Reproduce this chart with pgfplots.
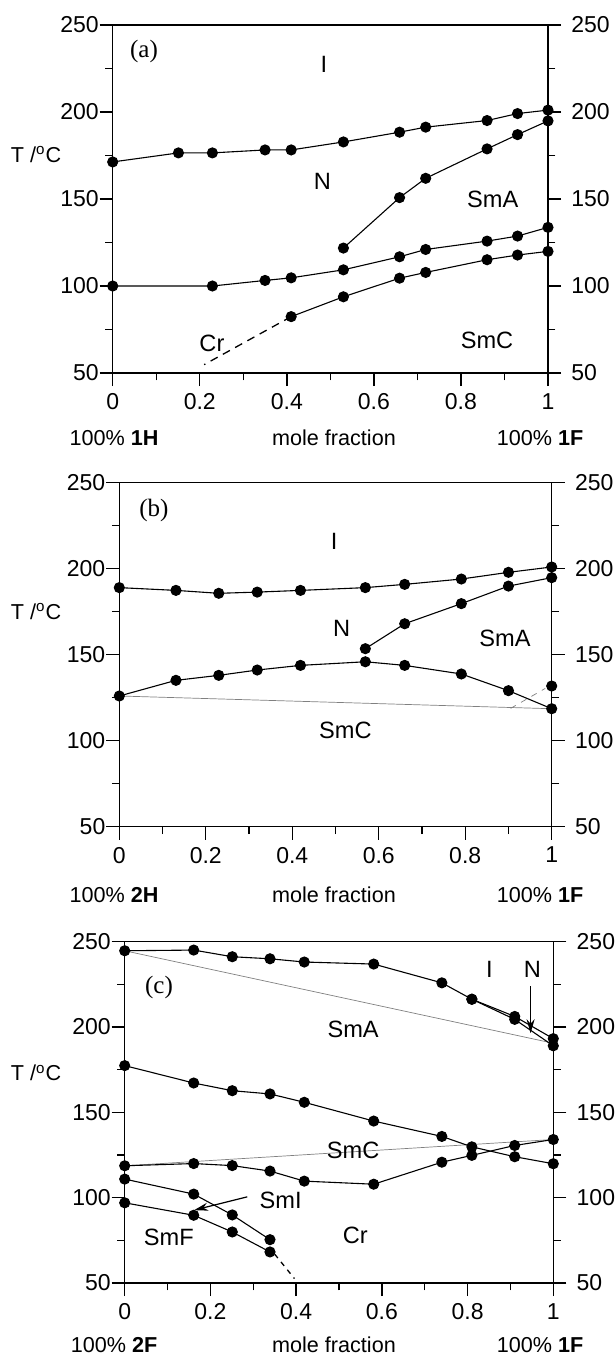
\documentclass[border=0pt]{standalone}
\usepackage{fontspec}
\setmainfont{Liberation Sans}
\newfontfamily\serif{Liberation Serif}
\usepackage{pgfplots}
\pgfplotsset{compat=1.18}
\usetikzlibrary{arrows.meta}

\newcommand\lab{\fontsize{11.8}{14}\selectfont}
\newcommand\txt{\fontsize{10.8}{13}\selectfont}

\pgfplotsset{
  common/.style={
    scale only axis,
    xmin=0, xmax=1, ymin=50, ymax=250,
    ytick={50,100,150,200,250},
    minor ytick={75,125,175,225},
    tick align=outside,
    major tick length=6.5pt, minor tick length=3.7pt,
    every tick/.style={black, line width=0.7pt},
    tick label style={font=\fontsize{11.5}{13}\selectfont},
    /pgf/number format/assume math mode=true,
    clip=false,
  },
  phase/.style={
    common,
    axis line style={line width=0.7pt},
    xtick={0,0.2,0.4,0.6,0.8,1},
    minor xtick={0.1,0.3,0.5,0.7,0.9},
    xtick pos=left, ytick pos=left,
    yticklabel style={inner xsep=0.3pt},
    xticklabel style={inner ysep=3.5pt},
  },
  rightax/.style={
    common,
    axis x line=none, axis y line*=right,
    axis line style={-, line width=0.7pt},
    yticklabel style={inner xsep=5pt},
  },
  pts/.style={black, line width=0.55pt, mark=*, mark size=2.5pt, mark options={solid}},
  thinl/.style={gray, line width=0.35pt, no marks},
}

\begin{document}
\begin{tikzpicture}
\path[use as bounding box] (0,0) rectangle (308pt,-678pt);

% ---------- (a)
\begin{axis}[phase, at={(56.35pt,-186.5pt)}, anchor=south west, width=217.65pt, height=174pt]
\addplot[pts] coordinates {(0,171.3)(0.151,176.5)(0.229,176.5)(0.350,178.2)(0.410,178.2)(0.530,182.8)(0.659,188.4)(0.719,191.3)(0.860,195.1)(0.930,199.1)(1,201.1)};
\addplot[pts] coordinates {(0.530,121.8)(0.659,150.8)(0.719,161.9)(0.860,178.8)(0.930,187.0)(1,194.9)};
\addplot[pts] coordinates {(0,100)(0.229,100)(0.350,103.2)(0.410,104.7)(0.530,109.3)(0.659,116.8)(0.719,121.0)(0.860,125.8)(0.930,128.7)(1,133.7)};
\addplot[pts] coordinates {(0.410,82.4)(0.530,93.8)(0.659,104.5)(0.719,107.8)(0.860,115.1)(0.930,117.8)(1,119.9)};
\addplot[black, line width=0.65pt, dash pattern=on 4pt off 3pt, no marks] coordinates {(0.410,82.4)(0.21,54.8)};
\node[font=\serif\fontsize{12.5}{14}\selectfont] at (axis cs:0.072,234.5) {(a)};
\node[font=\lab] at (axis cs:0.485,227.5) {I};
\node[font=\lab] at (axis cs:0.482,160.4) {N};
\node[font=\lab] at (axis cs:0.873,149.8) {SmA};
\node[font=\lab] at (axis cs:0.228,67) {Cr};
\node[font=\lab] at (axis cs:0.86,69) {SmC};
\end{axis}
\begin{axis}[rightax, at={(56.35pt,-186.5pt)}, anchor=south west, width=217.65pt, height=174pt]
\end{axis}

% ---------- (b)
\begin{axis}[phase, at={(59.65pt,-413.35pt)}, anchor=south west, width=216.2pt, height=172pt]
\addplot[thinl] coordinates {(0,126.0)(1,118.6)};
\addplot[thinl, dashed] coordinates {(0.905,118.8)(0.985,130.4)};
\addplot[pts] coordinates {(0,189.0)(0.131,187.4)(0.230,185.7)(0.319,186.4)(0.419,187.4)(0.569,189.0)(0.660,190.9)(0.791,194.0)(0.900,197.9)(1,201.0)};
\addplot[pts] coordinates {(0.569,153.5)(0.660,168.0)(0.791,179.7)(0.900,189.9)(1,194.8)};
\addplot[pts] coordinates {(0,126.0)(0.131,135.1)(0.230,138.0)(0.319,141.1)(0.419,143.8)(0.569,145.9)(0.660,143.8)(0.791,138.8)(0.900,129.1)(1,118.6)};
\addplot[pts, only marks] coordinates {(1,131.8)};
\node[font=\serif\fontsize{12.5}{14}\selectfont] at (axis cs:0.08,234.1) {(b)};
\node[font=\lab] at (axis cs:0.497,215.7) {I};
\node[font=\lab] at (axis cs:0.514,165.3) {N};
\node[font=\lab] at (axis cs:0.892,159.5) {SmA};
\node[font=\lab] at (axis cs:0.523,106.2) {SmC};
\end{axis}
\begin{axis}[rightax, at={(59.65pt,-413.35pt)}, anchor=south west, width=216.2pt, height=172pt]
\end{axis}

% ---------- (c)
\begin{axis}[phase, at={(62.35pt,-641.5pt)}, anchor=south west, width=214.3pt, height=170.65pt]
\addplot[thinl] coordinates {(0,244.7)(1,190.5)};
\addplot[thinl] coordinates {(0,118.7)(1,134.1)};
\addplot[pts] coordinates {(0,244.7)(0.161,245.1)(0.251,241.2)(0.339,240.0)(0.419,238.1)(0.581,236.9)(0.740,225.9)(0.810,216.3)(0.910,206.2)(1,193.2)};
\addplot[pts] coordinates {(0.810,216.3)(0.910,204.5)(1,189.0)};
\addplot[pts] coordinates {(0,177.4)(0.161,167.2)(0.251,162.7)(0.339,160.8)(0.419,155.9)(0.581,144.9)(0.740,135.9)(0.810,129.8)(0.910,124.0)(1,119.9)};
\addplot[pts] coordinates {(0,118.7)(0.161,120.0)(0.251,118.8)(0.339,115.6)(0.419,109.7)(0.581,107.9)(0.740,120.8)(0.810,124.8)(0.910,130.6)(1,134.1)};
\addplot[pts] coordinates {(0,110.9)(0.161,102.1)(0.251,89.9)(0.339,75.4)};
\addplot[pts] coordinates {(0,97.0)(0.161,89.7)(0.251,79.9)(0.339,68.2)};
\addplot[black, line width=0.65pt, dash pattern=on 2.5pt off 2.5pt, no marks] coordinates {(0.35,66.9)(0.396,52.6)};
\draw[line width=0.6pt, -{Stealth[length=7pt,width=4pt]}] (axis cs:0.947,223.8) -- (axis cs:0.947,196.4);
\draw[line width=0.6pt, -{Stealth[length=7pt,width=4pt]}] (axis cs:0.286,100.5) -- (axis cs:0.162,92.7);
\node[font=\serif\fontsize{12.5}{14}\selectfont] at (axis cs:0.080,223.4) {(c)};
\node[font=\lab] at (axis cs:0.851,233.6) {I};
\node[font=\lab] at (axis cs:0.951,233.6) {N};
\node[font=\lab] at (axis cs:0.533,198.7) {SmA};
\node[font=\lab] at (axis cs:0.533,127.9) {SmC};
\node[font=\lab] at (axis cs:0.364,98.5) {SmI};
\node[font=\lab] at (axis cs:0.103,77.0) {SmF};
\node[font=\lab] at (axis cs:0.538,78.0) {Cr};
\end{axis}
\begin{axis}[rightax, at={(62.35pt,-641.5pt)}, anchor=south west, width=214.3pt, height=170.65pt]
\end{axis}

% ---------- outer labels
\foreach \yy in {-77.5pt,-305.9pt,-536.5pt}
  \node[font=\txt] at (18pt,\yy) {T /\textsuperscript{o}C};
\node[font=\txt] at (57pt,-219pt) {100\% \textbf{1H}};
\node[font=\txt] at (167pt,-219pt) {mole fraction};
\node[font=\txt] at (270pt,-219pt) {100\% \textbf{1F}};
\node[font=\txt] at (57pt,-447.5pt) {100\% \textbf{2H}};
\node[font=\txt] at (167pt,-447.5pt) {mole fraction};
\node[font=\txt] at (270pt,-447.5pt) {100\% \textbf{1F}};
\node[font=\txt] at (57pt,-672.5pt) {100\% \textbf{2F}};
\node[font=\txt] at (167pt,-672.5pt) {mole fraction};
\node[font=\txt] at (270pt,-672.5pt) {100\% \textbf{1F}};
\end{tikzpicture}
\end{document}
